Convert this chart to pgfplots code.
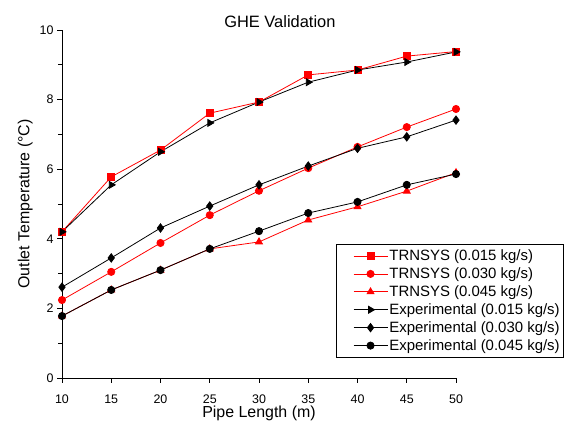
\documentclass[border=0pt]{standalone}
\usepackage{fontspec}
\setmainfont{Liberation Sans}
\usepackage{pgfplots}
\pgfplotsset{compat=1.18}
\pgfplotsset{mylegend/.style={legend image code/.code={\path (0bp,0bp); \draw[mark repeat=2,mark phase=2] plot coordinates {(15bp,0bp)(32bp,0bp)(49bp,0bp)};}}}
\begin{document}
\begin{tikzpicture}
\useasboundingbox (-62bp,-52bp) rectangle (504bp,378bp);
\begin{axis}[
  scale only axis,
  width=394bp, height=348bp,
  xmin=10, xmax=50, ymin=0, ymax=10,
  axis lines*=left,
  tick align=outside,
  xtick={10,15,...,50},
  ytick={0,2,...,10},
  minor ytick={1,3,...,9},
  major tick length=5bp,
  minor tick length=4bp,
  tick style={black, line width=0.8pt},
  axis line style={line width=0.9pt},
  /pgf/number format/assume math mode=true,
  ticklabel style={font=\fontsize{12.5}{14}\selectfont},
  xticklabel style={yshift=-8bp},
  xlabel={Pipe Length (m)},
  ylabel={Outlet Temperature (°C)},
  label style={font=\fontsize{16}{18}\selectfont},
  xlabel style={yshift=4bp},
  title={GHE Validation},
  title style={font=\fontsize{16.5}{18}\selectfont, at={(0.553,1)}, anchor=base, yshift=-3bp},
  legend style={at={(0.695,0.385)}, anchor=north west, draw=black, line width=0.6pt,
    font=\fontsize{15}{17}\selectfont, row sep=2.6bp, inner xsep=2bp, inner ysep=4bp,
    nodes={inner sep=1.5bp}, cells={anchor=west}},
  legend cell align=left,
  every axis plot/.append style={line width=0.8pt},
]
\addplot[red, mark=square*, mark size=3.6bp, mylegend] coordinates {(10,4.2)(15,5.78)(20,6.55)(25,7.61)(30,7.93)(35,8.71)(40,8.85)(45,9.25)(50,9.38)};
\addlegendentry{TRNSYS (0.015 kg/s)}
\addplot[red, mark=*, mark size=3.6bp, mylegend] coordinates {(10,2.24)(15,3.05)(20,3.88)(25,4.68)(30,5.38)(35,6.03)(40,6.64)(45,7.21)(50,7.73)};
\addlegendentry{TRNSYS (0.030 kg/s)}
\addplot[red, mark=triangle*, mark size=4bp, mylegend] coordinates {(10,1.78)(15,2.53)(20,3.1)(25,3.71)(30,3.91)(35,4.54)(40,4.92)(45,5.37)(50,5.9)};
\addlegendentry{TRNSYS (0.045 kg/s)}
\addplot[black, mark=triangle*, mark size=4bp, mark options={rotate=-90}, mylegend] coordinates {(10,4.2)(15,5.55)(20,6.5)(25,7.33)(30,7.93)(35,8.5)(40,8.85)(45,9.08)(50,9.37)};
\addlegendentry{Experimental (0.015 kg/s)}
\addplot[black, mark=diamond*, mark size=4.2bp, mylegend] coordinates {(10,2.61)(15,3.45)(20,4.31)(25,4.94)(30,5.55)(35,6.09)(40,6.6)(45,6.93)(50,7.41)};
\addlegendentry{Experimental (0.030 kg/s)}
\addplot[black, mark=*, mark size=3.6bp, mylegend] coordinates {(10,1.78)(15,2.53)(20,3.1)(25,3.71)(30,4.22)(35,4.74)(40,5.06)(45,5.55)(50,5.86)};
\addlegendentry{Experimental (0.045 kg/s)}
\end{axis}
\end{tikzpicture}
\end{document}
